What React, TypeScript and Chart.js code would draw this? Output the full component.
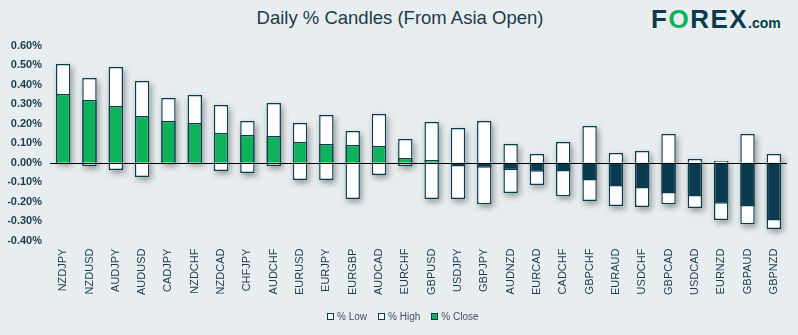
import React, { useEffect, useRef } from 'react';
import { Chart, registerables } from 'chart.js';

Chart.register(...registerables);

const categories = [
  'NZDJPY', 'NZDUSD', 'AUDJPY', 'AUDUSD', 'CADJPY', 'NZDCHF', 'NZDCAD', 'CHFJPY', 'AUDCHF',
  'EURUSD', 'EURJPY', 'EURGBP', 'AUDCAD', 'EURCHF', 'GBPUSD', 'USDJPY', 'GBPJPY', 'AUDNZD',
  'EURCAD', 'CADCHF', 'GBPCHF', 'EURAUD', 'USDCHF', 'GBPCAD', 'USDCAD', 'EURNZD', 'GBPAUD', 'GBPNZD',
];

const highValues = [
  0.508, 0.436, 0.492, 0.42, 0.333, 0.348, 0.297, 0.214, 0.307,
  0.204, 0.245, 0.163, 0.25, 0.122, 0.209, 0.178, 0.214, 0.096,
  0.045, 0.106, 0.189, 0.05, 0.06, 0.148, 0.019, 0.009, 0.148, 0.045,
];

const lowValues = [
  0, -0.017, -0.038, -0.074, -0.003, 0, -0.043, -0.053, -0.017,
  -0.089, -0.089, -0.187, -0.063, -0.017, -0.187, -0.187, -0.213, -0.156,
  -0.115, -0.172, -0.197, -0.223, -0.228, -0.213, -0.233, -0.295, -0.316, -0.341,
];

const closeValues = [
  0.353, 0.323, 0.292, 0.24, 0.214, 0.204, 0.153, 0.142, 0.137,
  0.106, 0.096, 0.091, 0.086, 0.024, 0.014, -0.019, -0.026, -0.039,
  -0.046, -0.045, -0.091, -0.122, -0.132, -0.158, -0.173, -0.211, -0.225, -0.297,
];

const seriesLabels = ['% Low', '% High', '% Close'];
const Y_MIN = -0.4;
const Y_MAX = 0.6;
const Y_STEP = 0.1;

const DARK = '#0a3a4d';
const GREEN = '#0db25b';
const BG = '#e8eef0';
const TEXT = '#1b3b4b';
const FONT = '"Liberation Sans", Arial, sans-serif';

const legendFills = ['#ffffff', '#ffffff', GREEN];

const candleShadow = {
  id: 'candleShadow',
  beforeDatasetsDraw(chart: any) {
    const ctx = chart.ctx;
    const lo = chart.getDatasetMeta(0).data;
    const hi = chart.getDatasetMeta(1).data;
    ctx.save();
    ctx.shadowColor = 'rgba(0,0,0,0.38)';
    ctx.shadowBlur = 6;
    ctx.shadowOffsetX = 2;
    ctx.shadowOffsetY = 3;
    ctx.fillStyle = '#ffffff';
    hi.forEach((h: any, i: number) => {
      const hp = h.getProps(['x', 'y', 'base', 'width'], true);
      const lp = lo[i].getProps(['y', 'base'], true);
      const top = Math.min(hp.y, hp.base, lp.y, lp.base);
      const bottom = Math.max(hp.y, hp.base, lp.y, lp.base);
      ctx.fillRect(hp.x - hp.width / 2, top, hp.width, bottom - top);
    });
    ctx.restore();
  },
  afterDatasetsDraw(chart: any) {
    const ctx = chart.ctx;
    const y0 = chart.scales.y.getPixelForValue(0);
    const area = chart.chartArea;
    ctx.save();
    ctx.strokeStyle = '#000000';
    ctx.lineWidth = 1;
    ctx.beginPath();
    ctx.moveTo(area.left, Math.round(y0) + 0.5);
    ctx.lineTo(area.right, Math.round(y0) + 0.5);
    ctx.stroke();
    ctx.restore();
  },
};

export default function App() {
  const canvasRef = useRef<HTMLCanvasElement | null>(null);

  useEffect(() => {
    document.body.style.margin = '0';
    const canvas = canvasRef.current;
    if (!canvas) return;
    Chart.defaults.font.family = FONT;

    const common = {
      borderColor: DARK,
      borderWidth: 1.5,
      grouped: false,
      barPercentage: 0.55,
      categoryPercentage: 1,
    };

    const chart = new Chart(canvas, {
      type: 'bar',
      data: {
        labels: categories,
        datasets: [
          {
            ...common,
            label: seriesLabels[0],
            data: lowValues.map((v) => [v, 0]),
            backgroundColor: '#ffffff',
            order: 2,
          },
          {
            ...common,
            label: seriesLabels[1],
            data: highValues.map((v) => [0, v]),
            backgroundColor: '#ffffff',
            order: 1,
          },
          {
            ...common,
            label: seriesLabels[2],
            data: closeValues.map((v) => [0, v]),
            backgroundColor: closeValues.map((v) => (v >= 0 ? GREEN : DARK)),
            order: 0,
          },
        ] as any,
      },
      options: {
        animation: false,
        responsive: true,
        maintainAspectRatio: false,
        layout: { padding: { left: 8, right: 11, top: 46, bottom: 32 } },
        scales: {
          x: {
            grid: { display: false, drawTicks: false },
            border: { display: false },
            ticks: {
              autoSkip: false,
              minRotation: 90,
              maxRotation: 90,
              padding: 8,
              color: TEXT,
              font: { size: 11 },
            },
          },
          y: {
            min: Y_MIN,
            max: Y_MAX,
            grid: { display: false, drawTicks: false },
            border: { display: false },
            afterFit: (scale: any) => {
              scale.width = 42;
            },
            ticks: {
              stepSize: Y_STEP,
              padding: 8,
              color: TEXT,
              font: { size: 11, weight: 'bold' },
              callback: (v: any) => Number(v).toFixed(2) + '%',
            },
          },
        },
        plugins: {
          tooltip: { enabled: false },
          title: { display: false },
          legend: { display: false },
        },
      } as any,
      plugins: [candleShadow],
    });

    return () => chart.destroy();
  }, []);

  return (
    <div
      style={{
        position: 'fixed',
        left: 0,
        top: 0,
        width: 798,
        height: 335,
        background: BG,
        overflow: 'hidden',
      }}
    >
      <div
        style={{
          position: 'absolute',
          left: 0,
          top: 9,
          width: 800,
          textAlign: 'center',
          fontFamily: FONT,
          fontSize: 18.5,
          lineHeight: '18.5px',
          color: TEXT,
          whiteSpace: 'nowrap',
        }}
      >
        Daily % Candles (From Asia Open)
      </div>
      <div
        style={{
          position: 'absolute',
          left: 651,
          top: 7,
          lineHeight: '25px',
          fontFamily: FONT,
          fontWeight: 'bold',
          color: DARK,
          whiteSpace: 'nowrap',
        }}
      >
        <span style={{ fontSize: 26, letterSpacing: 1.5 }}>
          F<span style={{ color: GREEN }}>O</span>REX
        </span>
        <span style={{ fontSize: 14 }}>.com</span>
      </div>
      <div style={{ position: 'absolute', left: 0, top: 0, width: 798, height: 335 }}>
        <canvas ref={canvasRef} />
      </div>
      <div
        style={{
          position: 'absolute',
          left: 327,
          top: 309,
          height: 14,
          display: 'flex',
          alignItems: 'center',
          fontFamily: FONT,
          fontSize: 10,
          color: '#3d505a',
          whiteSpace: 'nowrap',
        }}
      >
        {seriesLabels.map((label, i) => (
          <div key={label} style={{ display: 'flex', alignItems: 'center', marginRight: 11 }}>
            <span
              style={{
                display: 'inline-block',
                width: 5,
                height: 5,
                border: `1px solid ${DARK}`,
                background: legendFills[i],
                marginRight: 3,
              }}
            />
            <span>{label}</span>
          </div>
        ))}
      </div>
    </div>
  );
}
